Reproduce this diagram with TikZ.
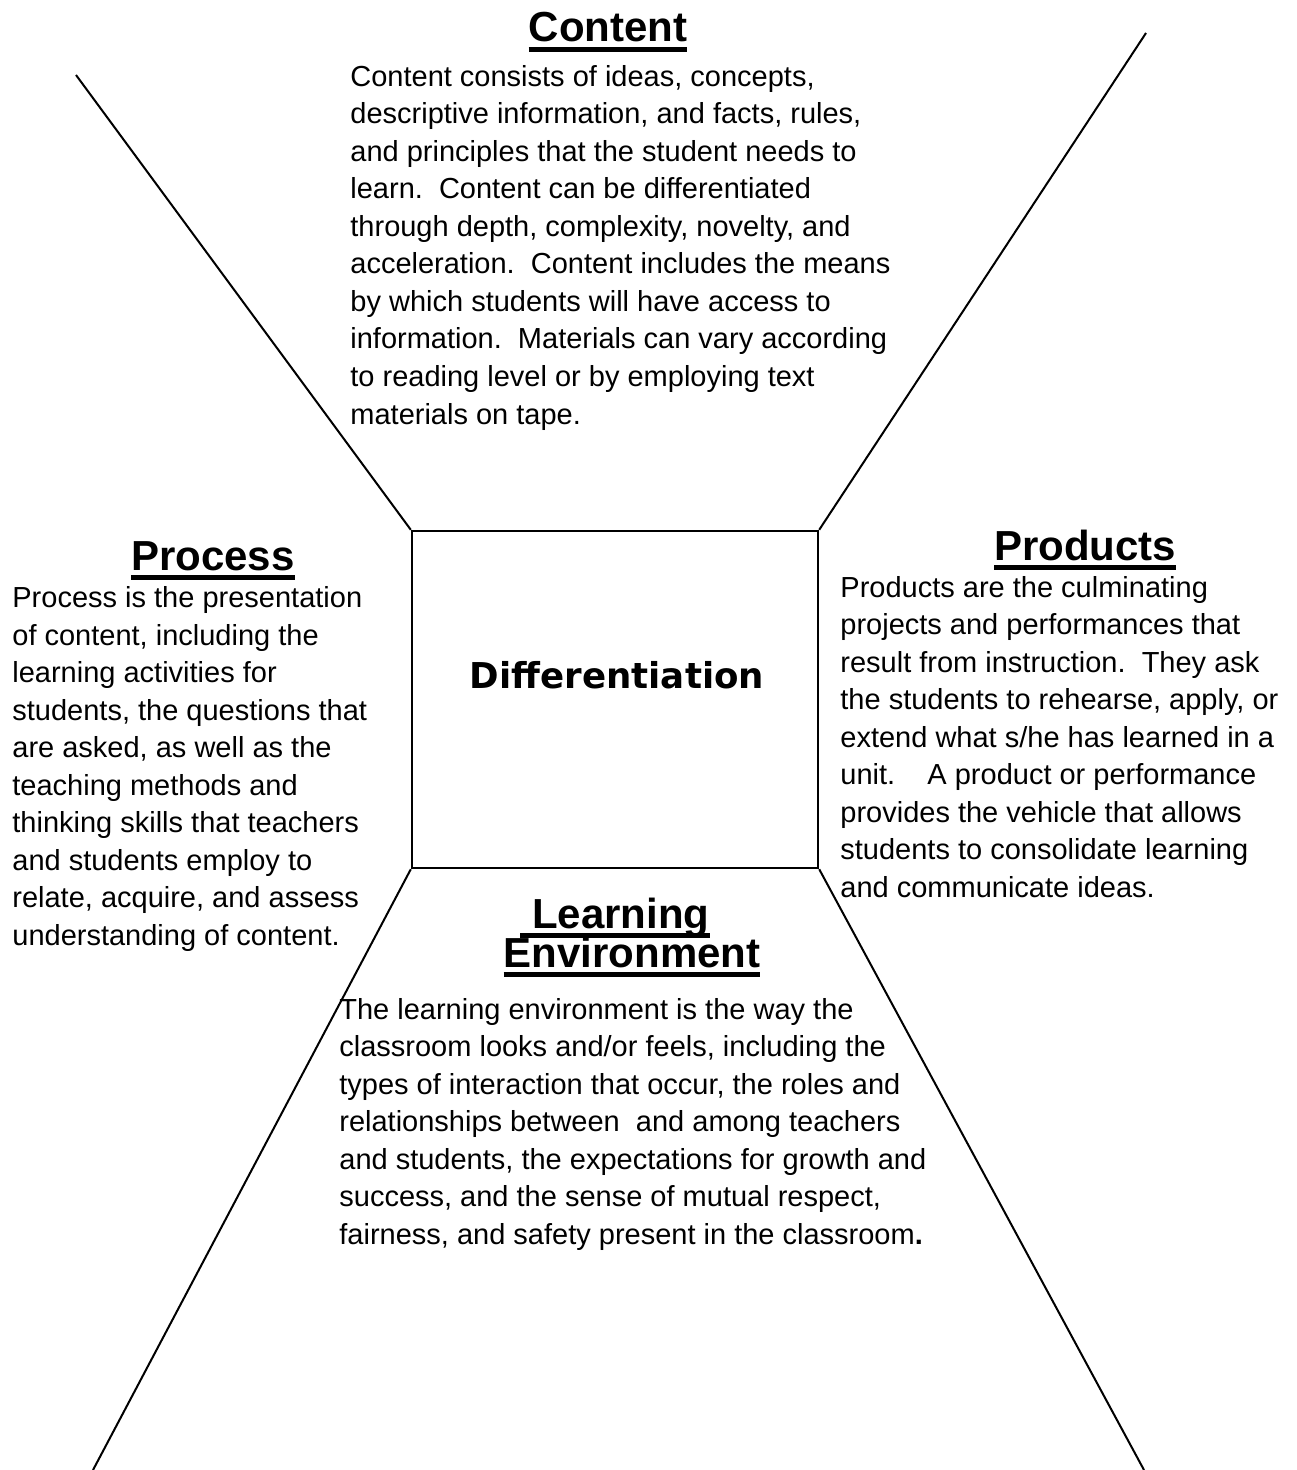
\documentclass[tikz,border=0pt]{standalone}
\usepackage{fontspec}
\setmainfont{Liberation Sans}
\newfontfamily\diffont{DejaVu Sans}
\frenchspacing
\newcommand{\ulbox}[1]{\setbox0\hbox{#1}\rlap{\raisebox{-5pt}{\rule{\wd0}{2.5pt}}}\box0}
\begin{document}
\begin{tikzpicture}[x=0.5pt, y=-0.5pt,
  % body nodes are placed at the baseline of their last line
  bodytext/.style = {font=\fontsize{14.5}{18.75}\selectfont, align=left,
    anchor=base west, inner sep=0pt},
  headtext/.style = {font=\fontsize{21}{19.5}\selectfont\bfseries,
    anchor=base, inner sep=0pt},
  spoke/.style = {line width=1pt},
  ]
  \useasboundingbox (0,0) rectangle (1296,1470);
  % centre square
  \node[draw, line width=1.2pt, minimum width=203pt, minimum height=168.5pt,
    inner sep=0pt] (sq) at (615,699.5) {};
  \node[anchor=base, inner sep=0pt, font=\diffont\fontsize{17.8}{20}\selectfont\bfseries]
    (difflbl) at (617,688) {Differentiation};
  % spokes
  \coordinate (tl) at (76,75);
  \coordinate (tr) at (1146,33);
  \coordinate (bl) at (93,1470);
  \coordinate (br) at (1144,1470);
  \draw[spoke] (sq.north west) -- (tl);
  \draw[spoke] (sq.north east) -- (tr);
  \draw[spoke] (sq.south west) -- (bl);
  \draw[spoke] (sq.south east) -- (br);
  % content
  \node[headtext] (conthead) at (608,42) {\ulbox{Content}};
  \node[bodytext] (contbody) at (350,424) {Content consists of ideas, concepts,\\
    descriptive information, and facts, rules,\\
    and principles that the student needs to\\
    learn.\ \ Content can be differentiated\\
    through depth, complexity, novelty, and\\
    acceleration.\ \ Content includes the means\\
    by which students will have access to\\
    information.\ \ Materials can vary according\\
    to reading level or by employing text\\
    materials on tape.};
  % process
  \node[headtext] (prochead) at (213,570) {\ulbox{Process}};
  \node[bodytext] (procbody) at (12,945) {Process is the presentation\\
    of content, including the\\
    learning activities for\\
    students, the questions that\\
    are asked, as well as the\\
    teaching methods and\\
    thinking skills that teachers\\
    and students employ to\\
    relate, acquire, and assess\\
    understanding of content.};
  % products
  \node[headtext] (prodhead) at (1085,560) {\ulbox{Products}};
  \node[bodytext] (prodbody) at (840,897) {Products are the culminating\\
    projects and performances that\\
    result from instruction.\ \ They ask\\
    the students to rehearse, apply, or\\
    extend what s/he has learned in a\\
    unit.\ \ \ \ A product or performance\\
    provides the vehicle that allows\\
    students to consolidate learning\\
    and communicate ideas.};
  % learning environment
  \node[headtext] (learnhead) at (615,928) {\ulbox{\ Learning}};
  \node[headtext] (envhead) at (632,967) {\ulbox{Environment}};
  \node[bodytext] (learnbody) at (339,1244) {The learning environment is the way the\\
    classroom looks and/or feels, including the\\
    types of interaction that occur, the roles and\\
    relationships between\ \ and among teachers\\
    and students, the expectations for growth and\\
    success, and the sense of mutual respect,\\
    fairness, and safety present in the classroom\textbf{.}};
\end{tikzpicture}
\end{document}
